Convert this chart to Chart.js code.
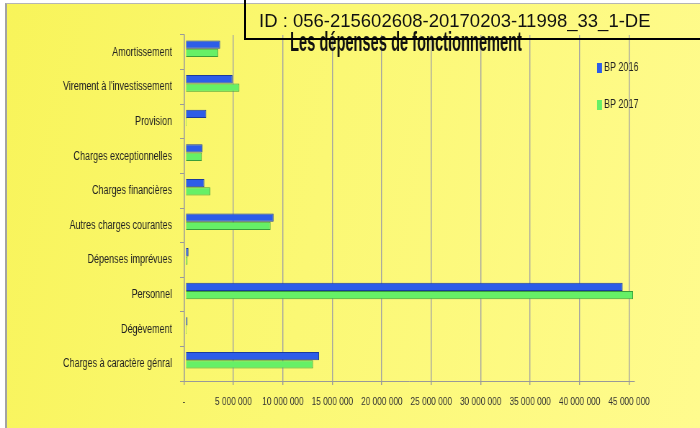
<!DOCTYPE html>
<html><head><meta charset="utf-8">
<script src="https://cdn.jsdelivr.net/npm/chart.js@4"></script>
<style>
html,body{margin:0;padding:0;width:700px;height:428px;overflow:hidden;background:#fff;}
#bg{position:absolute;left:5px;top:3px;width:693px;height:425px;border-left:2px solid #a3a3a3;border-top:1px solid #b5b5b5;background:linear-gradient(100deg,#f8f45a 0%,#fbf874 45%,#fffb8e 100%);}
#wrap{position:absolute;left:0;top:0;width:972px;height:428px;transform:scaleX(0.720165);transform-origin:0 0;}
#stamp{position:absolute;left:244px;top:-6px;width:470px;height:42px;border:2px solid #000;}
#stampText{position:absolute;left:259px;top:12px;font:18.5px/18.5px "Liberation Sans",Arial,sans-serif;color:#111;white-space:nowrap;}
</style></head>
<body>
<div id="bg"></div>
<div id="wrap"><canvas id="c" width="972" height="428"></canvas></div>
<div id="stamp"></div>
<div id="stampText">ID : 056-215602608-20170203-11998_33_1-DE</div>
<script>
const categories = ['Amortissement', "Virement à l'investissement", 'Provision', 'Charges exceptionnelles', 'Charges financières', 'Autres charges courantes', 'Dépenses imprévues', 'Personnel', 'Dégèvement', 'Charges à caractère génral'];
const bp2016 = [3500000, 4750000, 2100000, 1700000, 1900000, 8900000, 300000, 44200000, 200000, 13500000];
const bp2017 = [3300000, 5450000, 100000, 1650000, 2500000, 8600000, 200000, 45250000, 100000, 12900000];
const seriesNames = ['BP 2016', 'BP 2017'];
const xTickValues = [0, 5000000, 10000000, 15000000, 20000000, 25000000, 30000000, 35000000, 40000000, 45000000];
const titleText = 'Les dépenses de fonctionnement';

const S = 0.720165; // horizontal squeeze of the whole picture
const FONT = '"Liberation Sans", Arial, sans-serif';
const fmt = v => v === 0 ? '-' : String(Math.round(v)).replace(/\B(?=(\d{3})+(?!\d))/g, ' ');

const depth = {
  id: 'depth',
  beforeDatasetsDraw(c) { c.ctx.save(); c.ctx.translate(1.5 / S, -3.5); },
  afterDatasetsDraw(c) { c.ctx.restore(); }
};
const titlePlugin = {
  id: 'ttl',
  afterDraw(c) {
    const g = c.ctx; g.save();
    g.font = 'bold 27px ' + FONT;
    const w = g.measureText(titleText).width;
    g.translate(406 / S, 51); g.scale((232 / S) / w, 1);
    g.textAlign = 'center'; g.textBaseline = 'alphabetic'; g.fillStyle = '#111';
    g.fillText(titleText, 0, 0);
    g.restore();
  }
};
const legendPlugin = {
  id: 'lgd',
  afterDraw(c) {
    const g = c.ctx;
    c.data.datasets.forEach((ds, i) => {
      g.save();
      g.fillStyle = ds.backgroundColor;
      g.fillRect(597 / S, 63 + i * 37, 5 / S, 10);
      g.font = '12.5px ' + FONT;
      g.fillStyle = '#222'; g.textBaseline = 'middle'; g.textAlign = 'left';
      g.fillText(ds.label, 604 / S, 68 + i * 37);
      g.restore();
    });
  }
};

new Chart(document.getElementById('c'), {
  type: 'bar',
  data: {
    labels: categories,
    datasets: [
      { label: seriesNames[0], data: bp2016, backgroundColor: '#2d5de8', borderColor: '#1a3a9e', borderWidth: 1, categoryPercentage: 0.48, barPercentage: 1 },
      { label: seriesNames[1], data: bp2017, backgroundColor: '#66f066', borderColor: '#3a9e3a', borderWidth: 1, categoryPercentage: 0.48, barPercentage: 1 }
    ]
  },
  options: {
    indexAxis: 'y', responsive: false, animation: false, devicePixelRatio: 1,
    layout: { padding: { top: 35, right: 66 / S, left: 0, bottom: 0 } },
    plugins: { legend: { display: false }, title: { display: false }, tooltip: { enabled: false } },
    scales: {
      x: {
        min: 0, max: 45500000,
        afterBuildTicks: s => { s.ticks = xTickValues.map(v => ({ value: v })); },
        ticks: { callback: v => fmt(v), font: { family: FONT, size: 11.5 }, color: '#333', padding: 10, maxRotation: 0, autoSkip: false },
        afterFit: s => { s.height = 47; },
        grid: { color: '#a3a3a3', lineWidth: 1.4, tickLength: 4, tickColor: '#999' },
        border: { color: '#999', width: 1 }
      },
      y: {
        ticks: { font: { family: FONT, size: 12.5 }, color: '#222', padding: 11, autoSkip: false },
        afterFit: s => { s.width = 184 / S; },
        grid: { drawOnChartArea: false, tickLength: 5.5, color: '#999', offset: true },
        border: { color: '#999', width: 1.4 }
      }
    }
  },
  plugins: [depth, titlePlugin, legendPlugin]
});
</script>
</body></html>
